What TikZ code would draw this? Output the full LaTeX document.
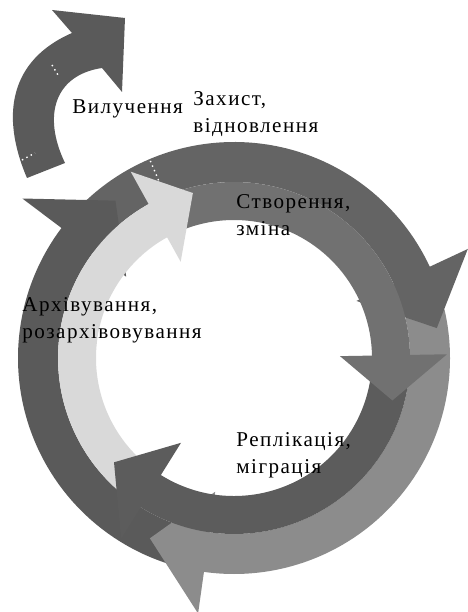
\documentclass[tikz,border=0pt]{standalone}
\usepackage{fontspec}
\setmainfont{Liberation Serif}[LetterSpace=7]

\definecolor{zakhyst}{HTML}{646464}
\definecolor{stvorennia}{HTML}{717171}
\definecolor{replikatsia}{HTML}{5C5C5C}
\definecolor{mihratsia}{HTML}{8C8C8C}
\definecolor{arkhiv}{HTML}{5A5A5A}
\definecolor{rozarkhiv}{HTML}{D9D9D9}

\tikzset{
  txt/.style={anchor=base west,inner sep=0pt,align=left,
              font=\fontsize{12}{15.4}\selectfont},
  seam/.style={white,dotted,line width=0.8pt}
}

\begin{document}
\begin{tikzpicture}
\useasboundingbox (0,0) rectangle (9.36,12.24);
\coordinate (O) at (4.68,5.08);

\begin{scope}[shift={(O)}]
% outer ring, bodies first
\fill[zakhyst] (140:4.32) arc[start angle=140,end angle=22,radius=4.32] -- (22:3.52) arc[start angle=22,end angle=140,radius=3.52] -- cycle;
\fill[mihratsia] (13:4.32) arc[start angle=13,end angle=-100,radius=4.32] -- (-100:3.52) arc[start angle=-100,end angle=13,radius=3.52] -- cycle;
\fill[arkhiv] (255:4.32) arc[start angle=255,end angle=141,radius=4.32] -- (141:3.52) arc[start angle=141,end angle=255,radius=3.52] -- cycle;

% outer ring, heads
\fill[zakhyst] (25:2.7) -- (25:5.16) -- (8.4:4.1) -- cycle;
\fill[mihratsia] (-98:2.7) -- (-98:5.16) -- (-115:3.98) -- cycle;
\fill[arkhiv] (143:2.7) -- (143:5.3) -- (127:3.94) -- cycle;

% inner ring, bodies
\fill[stvorennia] (112:3.52) arc[start angle=112,end angle=-1,radius=3.52] -- (-1:2.76) arc[start angle=-1,end angle=112,radius=2.76] -- cycle;
\fill[replikatsia] (-5:3.52) arc[start angle=-5,end angle=-124,radius=3.52] -- (-124:2.76) arc[start angle=-124,end angle=-5,radius=2.76] -- cycle;
\fill[rozarkhiv] (232:3.52) arc[start angle=232,end angle=117,radius=3.52] -- (117:2.76) arc[start angle=117,end angle=232,radius=2.76] -- cycle;

% inner ring, heads
\fill[stvorennia] (1:2.12) -- (1:4.26) -- (-15:3.28) -- cycle;
\fill[replikatsia] (-122:2.0) -- (-122:4.26) -- (-139:3.18) -- cycle;
\fill[rozarkhiv] (119:2.2) -- (119:4.26) -- (104:3.4) -- cycle;

\draw[seam] (113:3.86) -- (113:4.3);
\end{scope}

% separate arrow out of the ring
\fill[arkhiv] (0.54,8.68) .. controls (0,9.94) and (0.2,11.04) .. (1.44,11.58)
  -- (1.04,12.04) -- (2.5,11.88) -- (2.44,10.4) -- (2.04,10.88)
  .. controls (1.1,10.74) and (0.84,9.94) .. (1.3,8.98) -- cycle;
\draw[seam] (1.04,10.94) -- (1.16,10.74);
\draw[seam] (0.44,9.04) -- (0.70,9.18);

% captions
\node[txt] (vyl) at (1.44,9.96) {Вилучення};
\node[txt] (zakh) at (3.86,9.58) {Захист,\\відновлення};
\node[txt] (stvor) at (4.72,7.52) {Створення,\\зміна};
\node[txt] (arkh) at (0.44,5.46) {Архівування,\\розархівовування};
\node[txt] (repl) at (4.72,2.76) {Реплікація,\\міграція};
\end{tikzpicture}
\end{document}
